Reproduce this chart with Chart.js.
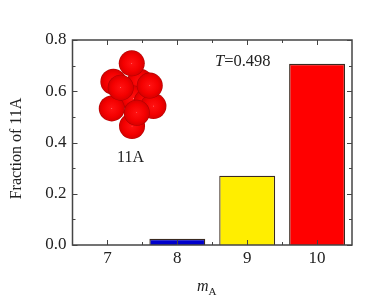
<!DOCTYPE html>
<html lang="en">
<head>
  <meta charset="UTF-8">
  <title>Fraction of 11A</title>
  <script src="https://cdn.jsdelivr.net/npm/chart.js"></script>
  <style>
    html, body { margin: 0; background: #fff; }
    #wrap { width: 382px; height: 301px; }
  </style>
</head>
<body>
  <div id="wrap"><canvas id="chart"></canvas></div>
  <script>
    const categories = ['7', '8', '9', '10'];
    const fractions = [0, 0.024, 0.27, 0.707];
    const barColors = ['#0000cc', '#0000cc', '#ffee00', '#ff0000'];
    const yTicks = [0, 0.2, 0.4, 0.6, 0.8];
    const yMinorTicks = [0.1, 0.3, 0.5, 0.7];

    // inset cluster, back to front, in axis units
    const sphereX = [7.467, 7.371, 7.563, 7.085, 7.658, 7.062, 7.352, 7.348, 7.19, 7.606, 7.42];
    const sphereY = [0.637, 0.572, 0.559, 0.637, 0.542, 0.533, 0.464, 0.709, 0.614, 0.622, 0.516];

    const serif = '"Liberation Serif", serif';
    const ink = '#222';
    const frame = '#444';

    function sphereFill(ctx) {
      if (ctx.dataIndex === undefined) return '#f00';
      const { x2, y } = ctx.chart.scales;
      const px = x2.getPixelForValue(sphereX[ctx.dataIndex]);
      const py = y.getPixelForValue(sphereY[ctx.dataIndex]);
      if (!isFinite(px) || !isFinite(py)) return '#f00';
      const g = ctx.chart.ctx.createRadialGradient(px, py, 0, px, py, 13);
      g.addColorStop(0, '#ff8080');
      g.addColorStop(0.06, '#ff1010');
      g.addColorStop(0.65, '#f40000');
      g.addColorStop(0.92, '#dc0000');
      g.addColorStop(1, '#a80000');
      return g;
    }

    // box with inward ticks on all four sides, plus the free text
    const framePlugin = {
      id: 'framePlugin',
      afterDatasetsDraw(chart) {
        const { ctx, chartArea: a, scales } = chart;
        ctx.save();
        ctx.strokeStyle = frame;
        ctx.lineWidth = 1;

        const tick = (x1, y1, x2, y2) => {
          ctx.beginPath();
          ctx.moveTo(x1, y1);
          ctx.lineTo(x2, y2);
          ctx.stroke();
        };
        yTicks.forEach(v => {
          const p = Math.round(scales.y.getPixelForValue(v)) + 0.5;
          tick(a.left, p, a.left + 5, p);
          tick(a.right, p, a.right - 5, p);
        });
        yMinorTicks.forEach(v => {
          const p = Math.round(scales.y.getPixelForValue(v)) + 0.5;
          tick(a.left, p, a.left + 3, p);
          tick(a.right, p, a.right - 3, p);
        });
        categories.forEach((c, i) => {
          const p = Math.round(scales.x.getPixelForValue(i)) + 0.5;
          tick(p, a.bottom, p, a.bottom - 5);
          tick(p, a.top, p, a.top + 5);
          if (i < categories.length - 1) {
            const m = Math.round(scales.x2.getPixelForValue(7.5 + i)) + 0.5;
            tick(m, a.bottom, m, a.bottom - 3);
            tick(m, a.top, m, a.top + 3);
          }
        });

        ctx.lineWidth = 1.5;
        ctx.strokeRect(a.left, a.top, a.right - a.left, a.bottom - a.top);

        ctx.fillStyle = ink;
        ctx.textBaseline = 'alphabetic';

        // T=0.498
        ctx.textAlign = 'left';
        ctx.font = 'italic 16.5px ' + serif;
        ctx.fillText('T', 215, 66);
        const tw = ctx.measureText('T').width;
        ctx.font = '16.5px ' + serif;
        ctx.fillText('=0.498', 215 + tw, 66);

        // cluster name
        ctx.font = '16px ' + serif;
        ctx.fillText('11A', 117, 162);

        // x axis title with subscript
        ctx.font = 'italic 16px ' + serif;
        ctx.fillText('m', 197, 291);
        const mw = ctx.measureText('m').width;
        ctx.font = '11px ' + serif;
        ctx.fillText('A', 197 + mw, 295);

        // y axis title
        ctx.translate(21, 148.5);
        ctx.rotate(-Math.PI / 2);
        ctx.textAlign = 'center';
        ctx.font = '16px ' + serif;
        ctx.fillText('Fraction of 11A', 0, 0);
        ctx.restore();
      }
    };

    new Chart(document.getElementById('chart'), {
      data: {
        labels: categories,
        datasets: [
          {
            type: 'scatter',
            xAxisID: 'x2',
            data: sphereX.map((x, i) => ({ x, y: sphereY[i] })),
            pointRadius: 13,
            pointBorderWidth: 0,
            pointBackgroundColor: sphereFill,
            order: 1
          },
          {
            type: 'bar',
            xAxisID: 'x',
            data: fractions,
            backgroundColor: barColors,
            borderColor: '#3a2a20',
            borderWidth: 1.3,
            grouped: false,
            barPercentage: 0.8,
            categoryPercentage: 1,
            order: 2
          }
        ]
      },
      options: {
        responsive: true,
        maintainAspectRatio: false,
        animation: false,
        events: [],
        layout: { padding: { top: 40, right: 30, left: 0, bottom: 0 } },
        plugins: { legend: { display: false }, tooltip: { enabled: false } },
        scales: {
          x: {
            type: 'category',
            offset: true,
            grid: { display: false, drawTicks: false },
            border: { display: false },
            ticks: { color: ink, padding: 3, maxRotation: 0, font: { family: serif, size: 17 } },
            afterFit(s) { s.height = 56; }
          },
          x2: { type: 'linear', min: 6.5, max: 10.5, display: false },
          y: {
            min: 0,
            max: 0.8,
            grid: { display: false, drawTicks: false },
            border: { display: false },
            afterBuildTicks(s) { s.ticks = yTicks.map(value => ({ value })); },
            ticks: {
              color: ink,
              padding: 6,
              font: { family: serif, size: 17 },
              callback: v => v.toFixed(1)
            },
            afterFit(s) { s.width = 72.5; }
          }
        }
      },
      plugins: [framePlugin]
    });
  </script>
</body>
</html>
